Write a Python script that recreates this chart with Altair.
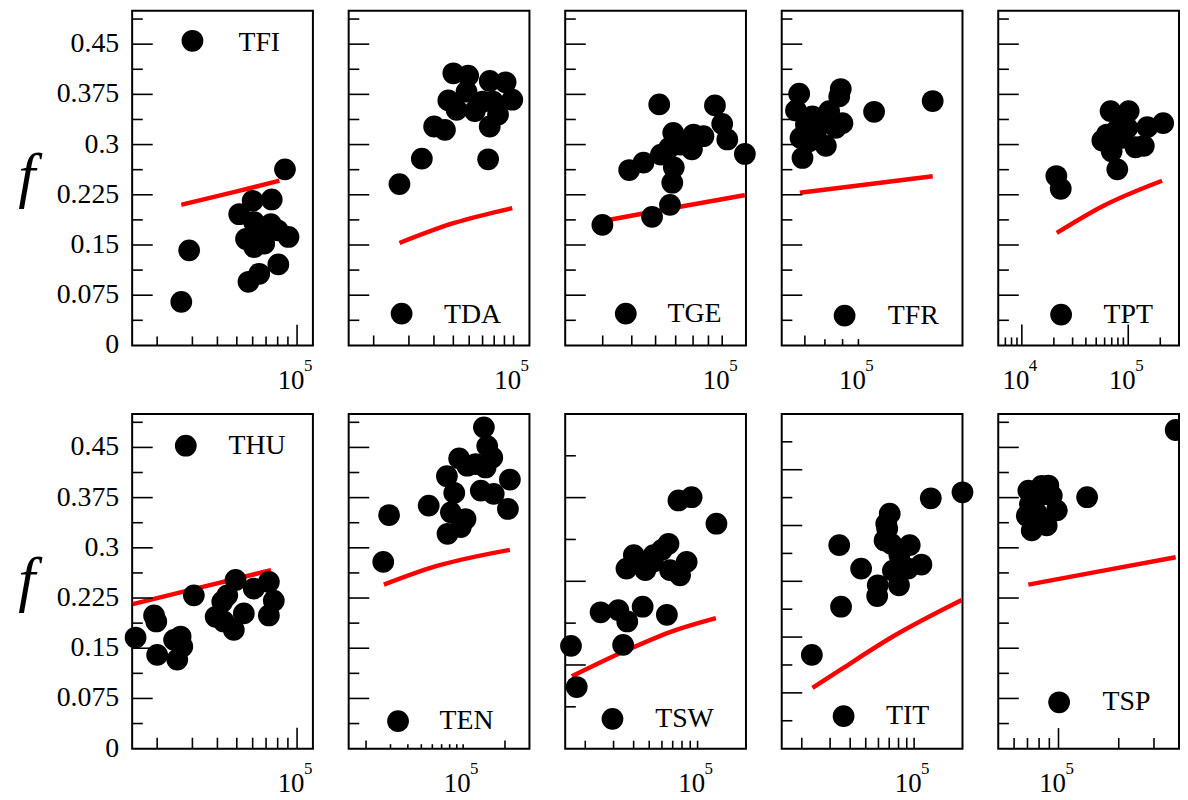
import altair as alt
import pandas as pd

# ---------------- data ----------------
TFI_x = [2.89e4, 2.64e4, 8.7e4, 5.14e4, 6.0e4, 7.47e4, 6.1e4, 7.4e4, 5.56e4, 6.1e4, 6.85e4, 8.0e4, 9.06e4, 8.06e4, 6.47e4, 5.72e4, 6.85e4]
TFI_f = [0.142, 0.065, 0.263, 0.196, 0.216, 0.218, 0.184, 0.181, 0.159, 0.147, 0.152, 0.172, 0.162, 0.121, 0.107, 0.095, 0.167]
TFI_lx = [2.64e4, 5.0e4, 8.16e4]
TFI_lf = [0.210, 0.230, 0.246]

TDA_x = [2.69e4, 3.48e4, 4.01e4, 4.54e4, 4.72e4, 5.0e4, 5.19e4, 5.93e4, 5.82e4, 6.4e4, 7.46e4, 7.6e4, 7.6e4, 7.9e4, 8.36e4, 9.12e4, 9.85e4, 7.0e4]
TDA_f = [0.241, 0.279, 0.327, 0.322, 0.366, 0.4065, 0.352, 0.403, 0.379, 0.350, 0.278, 0.327, 0.395, 0.364, 0.345, 0.393, 0.367, 0.364]
TDA_lx = [2.69e4, 5.0e4, 9.85e4]
TDA_lf = [0.153, 0.1825, 0.205]

TGE_x = [3.99e4, 4.9e4, 5.47e4, 5.84e4, 6.17e4, 6.25e4, 6.7e4, 6.82e4, 6.87e4, 6.9e4, 6.66e4, 7.26e4, 7.93e4, 8.03e4, 8.66e4, 9.46e4, 1.0e5, 1.04e5, 1.19e5]
TGE_f = [0.180, 0.262, 0.273, 0.192, 0.360, 0.285, 0.210, 0.243, 0.3175, 0.266, 0.295, 0.300, 0.293, 0.315, 0.3125, 0.3585, 0.331, 0.3076, 0.286]
TGE_lx = [4.03e4, 7.0e4, 1.19e5]
TGE_lf = [0.186, 0.206, 0.2245]

TFR_x = [6.74e4, 6.6e4, 6.89e4, 6.8e4, 7.05e4, 7.36e4, 7.53e4, 8.05e4, 8.23e4, 7.78e4, 8.89e4, 8.8e4, 8.99e4, 8.6e4, 1.11e5, 1.64e5, 7.2e4]
TFR_f = [0.376, 0.351, 0.280, 0.310, 0.330, 0.342, 0.3175, 0.298, 0.350, 0.332, 0.383, 0.372, 0.332, 0.325, 0.349, 0.365, 0.305]
TFR_lx = [6.77e4, 1.0e5, 1.64e5]
TFR_lf = [0.228, 0.239, 0.2527]

TPT_x = [2.11e4, 2.32e4, 5.71e4, 6.82e4, 6.98e4, 7.89e4, 7.89e4, 1.01e5, 9.8e4, 1.17e5, 1.40e5, 1.51e5, 2.13e5, 6.3e4, 8.8e4, 8.5e4]
TPT_f = [0.253, 0.234, 0.306, 0.350, 0.290, 0.263, 0.3225, 0.350, 0.325, 0.296, 0.298, 0.326, 0.332, 0.315, 0.310, 0.340]
TPT_lx = [2.13e4, 5.92e4, 2.08e5]
TPT_lf = [0.168, 0.209, 0.246]

THU_x = [1.56e4, 1.93e4, 1.98e4, 2.0e4, 2.43e4, 2.62e4, 2.67e4, 2.52e4, 3.05e4, 3.92e4, 4.23e4, 4.48e4, 4.83e4, 4.93e4, 5.42e4, 6.08e4, 7.23e4, 7.65e4, 7.23e4, 4.3e4]
THU_f = [0.166, 0.199, 0.190, 0.140, 0.1625, 0.1675, 0.1526, 0.133, 0.229, 0.197, 0.2195, 0.229, 0.1774, 0.252, 0.202, 0.239, 0.249, 0.221, 0.199, 0.190]
THU_lx = [1.51e4, 3.3e4, 7.41e4]
THU_lf = [0.216, 0.241, 0.2666]

TEN_x = [2.66e4, 2.93e4, 5.65e4, 7.64e4, 7.72e4, 8.16e4, 8.63e4, 9.36e4, 9.62e4, 1.04e5, 1.07e5, 1.23e5, 1.34e5, 1.41e5, 1.49e5, 1.62e5, 1.45e5, 1.66e5, 2.17e5, 2.1e5]
TEN_f = [0.279, 0.349, 0.363, 0.407, 0.321, 0.353, 0.382, 0.4336, 0.331, 0.343, 0.4227, 0.425, 0.3855, 0.480, 0.452, 0.435, 0.420, 0.3806, 0.402, 0.358]
TEN_lx = [2.69e4, 6.38e4, 2.17e5]
TEN_lf = [0.245, 0.2725, 0.297]

TSW_x = [1.63e4, 1.77e4, 2.49e4, 3.21e4, 3.44e4, 3.65e4, 4.55e4, 3.61e4, 4.01e4, 4.62e4, 4.73e4, 5.27e4, 5.32e4, 6.0e4, 6.59e4, 6.44e4, 6.74e4, 7.78e4, 8.55e4, 7.6e4, 9.18e4, 1.31e5]
TSW_f = [0.1536, 0.092, 0.2037, 0.207, 0.155, 0.190, 0.212, 0.269, 0.289, 0.279, 0.2666, 0.279, 0.289, 0.297, 0.306, 0.200, 0.2666, 0.259, 0.279, 0.3707, 0.3756, 0.336]
TSW_lx = [1.65e4, 3.47e4, 7.08e4, 1.3e5]
TSW_lf = [0.108, 0.145, 0.176, 0.195]

TIT_x = [2.31e4, 3.42e4, 3.51e4, 4.68e4, 5.89e4, 5.94e4, 7.05e4, 6.71e4, 6.8e4, 6.55e4, 7.2e4, 7.38e4, 8.05e4, 8.1e4, 9.17e4, 9.39e4, 1.11e5, 1.27e5, 2.0e5]
TIT_f = [0.140, 0.304, 0.212, 0.269, 0.228, 0.244, 0.351, 0.336, 0.3285, 0.311, 0.306, 0.266, 0.244, 0.289, 0.269, 0.304, 0.275, 0.374, 0.383]
TIT_lx = [2.33e4, 3.59e4, 7.38e4, 1.98e5]
TIT_lf = [0.0907, 0.120, 0.1675, 0.222]

TSP_x = [7.07e4, 6.94e4, 7.35e4, 7.78e4, 8.24e4, 8.4e4, 8.73e4, 9.26e4, 9.81e4, 8.0e4, 1.39e5, 3.85e5, 8.9e4, 7.2e4]
TSP_f = [0.3855, 0.348, 0.326, 0.352, 0.3925, 0.380, 0.3335, 0.378, 0.356, 0.340, 0.3756, 0.476, 0.393, 0.365]
TSP_lx = [7.07e4, 1.6e5, 3.85e5]
TSP_lf = [0.245, 0.2648, 0.286]

# y tick values / labels
Y_LABEL_VALUES = [0, 0.075, 0.15, 0.225, 0.3, 0.375, 0.45]
Y_LABELS = ["0", "0.075", "0.15", "0.225", "0.3", "0.375", "0.45"]
Y_MAJ_A = [0.075, 0.15, 0.225, 0.3, 0.375, 0.45]
Y_MIN_A = [0.0375, 0.1125, 0.1875, 0.2625, 0.3375, 0.4125, 0.4875]
Y_MAJ_SW = [0.125, 0.25, 0.375]
Y_MIN_SW = [0.0625, 0.1875, 0.3125, 0.4375]
Y_MAJ_IT = [1 / 12, 2 / 12, 3 / 12, 4 / 12, 5 / 12]
Y_MIN_IT = [1 / 24, 3 / 24, 5 / 24, 7 / 24, 9 / 24, 11 / 24]

DEC = [2e4, 3e4, 4e4, 5e4, 6e4, 7e4, 8e4, 9e4]

FONT = "Liberation Serif"
W, H = 182, 337
PT = 480

panels = [
    dict(name="TFI", x=TFI_x, f=TFI_f, lx=TFI_lx, lf=TFI_lf, dom=[1.5e4, 1.2e5],
         xmaj=[1e5], xmin=DEC, xl=(20.7, 9), ymaj=Y_MAJ_A, ymin=Y_MIN_A,
         xlab=[1e5], xexp=["5"], leg=(60.7, 30.3, 107, 33)),
    dict(name="TDA", x=TDA_x, f=TDA_f, lx=TDA_lx, lf=TDA_lf, dom=[1.5e4, 1.2e5],
         xmaj=[1e5], xmin=DEC, xl=(10, 10), ymaj=Y_MAJ_A, ymin=Y_MIN_A,
         xlab=[1e5], xexp=["5"], leg=(53.3, 305, 96, 306)),
    dict(name="TGE", x=TGE_x, f=TGE_f, lx=TGE_lx, lf=TGE_lf, dom=[3e4, 1.2e5],
         xmaj=[1e5], xmin=[4e4, 5e4, 6e4, 7e4, 8e4, 9e4], xl=(10, 10), ymaj=Y_MAJ_A, ymin=Y_MIN_A,
         xlab=[1e5], xexp=["5"], leg=(61, 305, 103, 305.5)),
    dict(name="TFR", x=TFR_x, f=TFR_f, lx=TFR_lx, lf=TFR_lf, dom=[6e4, 2e5],
         xmaj=[7e4], xmin=[8e4, 9e4, 1e5], xl=(10, 6.3), ymaj=Y_MAJ_A, ymin=Y_MIN_A,
         xlab=[1e5], xexp=["5"], leg=(63.3, 307, 106.7, 307)),
    dict(name="TPT", x=TPT_x, f=TPT_f, lx=TPT_lx, lf=TPT_lf, dom=[6e3, 3e5],
         xmaj=[1e4, 1e5], xmin=[7e3, 8e3, 9e3] + DEC + [2e5], xl=(21, 8), ymaj=Y_MAJ_A, ymin=Y_MIN_A,
         xlab=[1e4, 1e5], xexp=["4", "5"], leg=(63.3, 306, 106, 306)),
    dict(name="THU", x=THU_x, f=THU_f, lx=THU_lx, lf=THU_lf, dom=[1.5e4, 1.2e5],
         xmaj=[1e5], xmin=DEC, xl=(21, 11), ymaj=Y_MAJ_A, ymin=Y_MIN_A,
         xlab=[1e5], xexp=["5"], leg=(54, 32, 97, 32)),
    dict(name="TEN", x=TEN_x, f=TEN_f, lx=TEN_lx, lf=TEN_lf, dom=[1.5e4, 3e5],
         xmaj=[2e4, 2e5], xmin=[3e4, 4e4, 5e4, 6e4, 7e4, 8e4, 9e4, 1e5], xl=(8.3, 4.5), ymaj=Y_MAJ_A, ymin=Y_MIN_A,
         xlab=[1e5], xexp=["5"], leg=(49.7, 309.3, 91.5, 309)),
    dict(name="TSW", x=TSW_x, f=TSW_f, lx=TSW_lx, lf=TSW_lf, dom=[1.5e4, 2e5],
         xmaj=[1e5], xmin=DEC, xl=(8, 8), ymaj=Y_MAJ_SW, ymin=Y_MIN_SW,
         xlab=[1e5], xexp=["5"], leg=(47.6, 307, 90.6, 307)),
    dict(name="TIT", x=TIT_x, f=TIT_f, lx=TIT_lx, lf=TIT_lf, dom=[1.5e4, 2e5],
         xmaj=[1e5], xmin=DEC, xl=(11, 11), ymaj=Y_MAJ_IT, ymin=Y_MIN_IT,
         xlab=[1e5], xexp=["5"], leg=(62.3, 304.3, 105, 304.3)),
    dict(name="TSP", x=TSP_x, f=TSP_f, lx=TSP_lx, lf=TSP_lf, dom=[5e4, 4e5],
         xmaj=[1e5], xmin=[6e4, 7e4, 8e4, 9e4, 2e5, 3e5], xl=(20.7, 10.7), ymaj=Y_MAJ_A, ymin=Y_MIN_A,
         xlab=[1e5], xexp=["5"], leg=(61.3, 290.3, 105, 290), clip=True),
]


def panel(p, first_col):
    xsc = alt.Scale(type="log", domain=p["dom"], nice=False)
    ysc = alt.Scale(domain=[0, 0.5], nice=False, zero=False)

    def X(f):
        return alt.X(f"{f}:Q", scale=xsc, axis=None)

    def Y(f):
        return alt.Y(f"{f}:Q", scale=ysc, axis=None)

    layers = []
    ln = pd.DataFrame({"x": p["lx"], "f": p["lf"]})
    layers.append(alt.Chart(ln).mark_line(color="#ff0000", strokeWidth=4.5, clip=True,
                                          interpolate="monotone")
                  .encode(x=X("x"), y=Y("f")))
    pts = pd.DataFrame({"x": p["x"], "f": p["f"]})
    layers.append(alt.Chart(pts).mark_circle(size=PT, color="black", opacity=1,
                                             clip=p.get("clip", False))
                  .encode(x=X("x"), y=Y("f")))
    for vals, L in [(p["ymaj"], 20.7), (p["ymin"], 10.7)]:
        layers.append(alt.Chart(pd.DataFrame({"v": vals}))
                      .mark_rule(color="black", strokeWidth=1.6)
                      .encode(y=Y("v"), x=alt.value(0), x2=alt.value(L)))
    for vals, L in [(p["xmaj"], p["xl"][0]), (p["xmin"], p["xl"][1])]:
        layers.append(alt.Chart(pd.DataFrame({"v": vals}))
                      .mark_rule(color="black", strokeWidth=1.6)
                      .encode(x=X("v"), y=alt.value(H), y2=alt.value(H - L)))
    lab = pd.DataFrame({"v": p["xlab"], "e": p["xexp"], "b": ["10"] * len(p["xlab"])})
    layers.append(alt.Chart(lab).mark_text(fontSize=27, align="center", baseline="alphabetic",
                                           dx=-6, font=FONT, color="black")
                  .encode(x=X("v"), y=alt.value(H + 44), text="b:N"))
    layers.append(alt.Chart(lab).mark_text(fontSize=17, align="left", baseline="alphabetic",
                                           dx=7, font=FONT, color="black")
                  .encode(x=X("v"), y=alt.value(H + 26), text="e:N"))
    mx, my, tx, ty = p["leg"]
    leg = pd.DataFrame({"name": [p["name"]]})
    layers.append(alt.Chart(leg).mark_circle(size=PT, color="black", opacity=1)
                  .encode(x=alt.value(mx), y=alt.value(my)))
    layers.append(alt.Chart(leg).mark_text(fontSize=28, align="left", baseline="middle",
                                           font=FONT, color="black")
                  .encode(x=alt.value(tx), y=alt.value(ty), text="name:N"))
    if first_col:
        yl = pd.DataFrame({"v": Y_LABEL_VALUES, "t": Y_LABELS})
        layers.append(alt.Chart(yl).mark_text(fontSize=28, align="right", baseline="middle",
                                              font=FONT, color="black")
                      .encode(x=alt.value(-13), y=Y("v"), text="t:N"))
        layers.append(alt.Chart(leg).mark_text(fontSize=62, fontStyle="italic", align="center",
                                               baseline="middle", font=FONT, color="black", text="f")
                      .encode(x=alt.value(-106), y=alt.value(168)))
    return alt.layer(*layers).properties(width=W, height=H)


cells = [panel(p, i % 5 == 0) for i, p in enumerate(panels)]

chart = (
    alt.concat(*cells, columns=5, spacing={"row": 69, "column": 36}, bounds="flush",
               padding={"left": 9, "top": -1, "right": 0, "bottom": 0},
               background="white")
    .configure_view(stroke="black", strokeWidth=2)
)

chart.save("out.html", embed_options={"renderer": "svg", "actions": False})
